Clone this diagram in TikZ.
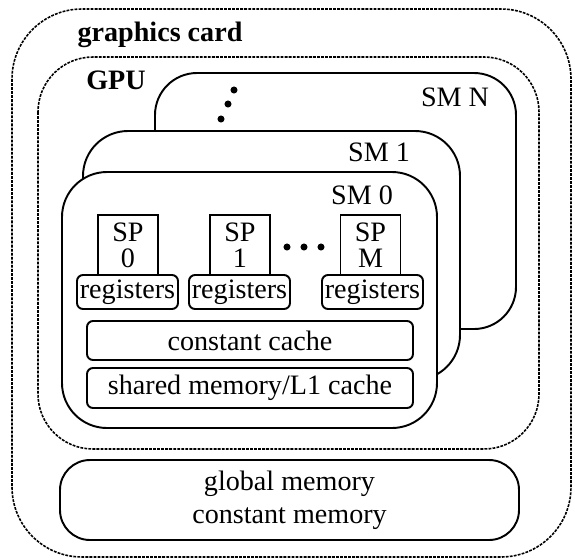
\documentclass[tikz,border=0pt]{standalone}
\usepackage{fontspec}
\setmainfont{Liberation Serif}
\usepackage{tikz}

\tikzset{
  dashbox/.style={draw,dash pattern=on 1.6pt off 0.7pt,line width=0.9pt},
  smbox/.style={draw,fill=white,line width=1.1pt},
  unitbox/.style={draw,line width=1.1pt,rounded corners=1.2mm,inner sep=1pt},
  spbox/.style={draw,line width=1.1pt,minimum width=12mm,minimum height=12mm,inner sep=0pt,align=center,font=\fontsize{16}{14.6}\selectfont},
}

\begin{document}
\begin{tikzpicture}[x=0.2mm,y=-0.2mm,font=\fontsize{16}{19}\selectfont]
\useasboundingbox (0,0) rectangle (575,559);

% card and gpu
\draw[dashbox,rounded corners=14mm] (12,9) rectangle (571,557);
\draw[dashbox,rounded corners=11mm] (38,57) rectangle (539,449);
\node (card) at (160,35) {\textbf{graphics card}};
\node (gpu) at (116,80) {\textbf{GPU}};

% SMs, back to front
\draw[smbox,rounded corners=8.4mm] (155,73) rectangle (516,329);
\node (smN) at (455,97) {SM N};
\fill (234,90) circle (2pt);
\fill (228,104) circle (2pt);
\fill (221,119) circle (2pt);

\draw[smbox,rounded corners=9mm] (83,131) rectangle (460,380);
\node (sm1) at (379,152) {SM 1};

\draw[smbox,rounded corners=9mm] (62,172) rectangle (437,428);
\node (sm0) at (362,195) {SM 0};

% streaming processors
\node[spbox] (sp0) at (128,245) {SP\\0};
\node[spbox] (sp1) at (240,245) {SP\\1};
\node[spbox] (spM) at (370.5,245) {SP\\M};
\fill (287,247) circle (2pt);
\fill (304,247) circle (2pt);
\fill (321,247) circle (2pt);

\node[unitbox,minimum width=20.2mm,minimum height=6.8mm] (reg0) at (127.5,292) {registers};
\node[unitbox,minimum width=20.2mm,minimum height=6.8mm] (reg1) at (239.5,292) {registers};
\node[unitbox,minimum width=20.2mm,minimum height=6.8mm] (regM) at (372.5,292) {registers};

\node[unitbox,minimum width=65.2mm,minimum height=7.8mm] (cc) at (250,340.5) {constant cache};
\node[unitbox,minimum width=65.2mm,minimum height=8mm] (shm) at (250,388) {shared memory/L1 cache};

% off chip
\node[unitbox,rounded corners=6mm,minimum width=91.8mm,minimum height=16mm,align=center] (glob) at (289.5,500) {global memory\\constant memory};

\end{tikzpicture}
\end{document}
